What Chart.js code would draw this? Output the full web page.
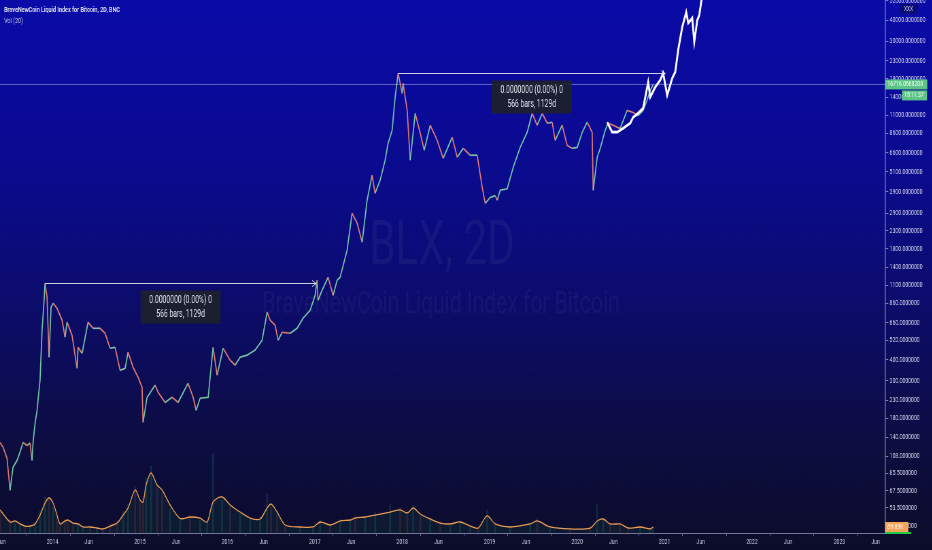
<!DOCTYPE html>
<html>
<head>
<meta charset="utf-8">
<script src="https://cdn.jsdelivr.net/npm/chart.js@4.4.0/dist/chart.umd.min.js"></script>
<style>
  html, body { margin: 0; padding: 0; overflow: hidden; background: #0c0c2a; }
  #wrap { width: 1371px; height: 550px; transform: scaleX(0.68); transform-origin: 0 0; }
</style>
</head>
<body>
<div id="wrap"><canvas id="chart" width="1371" height="550"></canvas></div>
<script>
"use strict";

// price (2D candles read as closes / wicks), x in decimal years
const priceDates = [
  2013.399, 2013.434, 2013.479, 2013.514, 2013.548, 2013.594, 2013.628, 2013.662, 2013.708, 2013.743,
  2013.765, 2013.777, 2013.800, 2013.823, 2013.834, 2013.857, 2013.880, 2013.903, 2013.914, 2013.937,
  2013.960, 2013.983, 2014.006, 2014.051, 2014.109, 2014.143, 2014.166, 2014.223, 2014.280, 2014.292,
  2014.338, 2014.406, 2014.463, 2014.543, 2014.601, 2014.658, 2014.715, 2014.772, 2014.830, 2014.864,
  2014.921, 2014.978, 2015.024, 2015.035, 2015.081, 2015.173, 2015.207, 2015.287, 2015.367, 2015.436,
  2015.550, 2015.608, 2015.642, 2015.688, 2015.780, 2015.836, 2015.882, 2015.951, 2016.031, 2016.088,
  2016.145, 2016.225, 2016.317, 2016.397, 2016.454, 2016.489, 2016.546, 2016.580, 2016.626, 2016.718,
  2016.797, 2016.866, 2016.946, 2017.003, 2017.026, 2017.037, 2017.083, 2017.152, 2017.209, 2017.255,
  2017.289, 2017.369, 2017.426, 2017.484, 2017.541, 2017.598, 2017.655, 2017.689, 2017.747, 2017.804,
  2017.838, 2017.884, 2017.918, 2017.953, 2017.999, 2018.010, 2018.056, 2018.091, 2018.148, 2018.206,
  2018.251, 2018.320, 2018.400, 2018.468, 2018.571, 2018.629, 2018.697, 2018.777, 2018.857, 2018.914,
  2018.949, 2019.006, 2019.063, 2019.086, 2019.120, 2019.200, 2019.269, 2019.349, 2019.429, 2019.486,
  2019.543, 2019.601, 2019.658, 2019.715, 2019.749, 2019.829, 2019.886, 2019.943, 2020.001, 2020.058,
  2020.115, 2020.172, 2020.184, 2020.230, 2020.264, 2020.321, 2020.355, 2020.412, 2020.492, 2020.572,
  2020.641, 2020.698, 2020.755, 2020.801, 2020.836, 2020.870
];
const priceValues = [
  130, 122, 105, 68, 93, 102, 114, 130, 125, 129,
  102, 130, 169, 201, 231, 303, 596, 895, 1127, 931,
  413, 814, 860, 803, 683, 542, 664, 556, 356, 473,
  436, 664, 612, 612, 572, 467, 473, 346, 356, 442,
  361, 315, 275, 171, 240, 283, 257, 224, 240, 224,
  290, 240, 201, 237, 240, 473, 324, 467, 397, 371,
  413, 425, 455, 520, 761, 683, 637, 520, 580, 572,
  612, 702, 781, 956, 1174, 895, 1025, 1223, 956, 1174,
  1223, 1763, 2910, 2543, 1966, 3476, 4880, 3820, 4560, 5980,
  7520, 8970, 14030, 19440, 14800, 16970, 11760, 5980, 11290, 8610,
  6840, 9610, 7830, 6140, 8160, 6230, 7030, 6400, 6400, 4150,
  3330, 3610, 3700, 3476, 3980, 4060, 5430, 7120, 8730, 11290,
  9610, 11290, 9870, 10010, 7830, 9610, 7310, 7030, 7120, 8730,
  10010, 8730, 3980, 6230, 7030, 8970, 9870, 9610, 9180, 11760,
  11420, 10960, 11760, 13500, 15400, 16716
];

// white projected path
const projDates = [
  2020.344, 2020.401, 2020.459, 2020.527, 2020.607, 2020.641, 2020.698, 2020.755, 2020.778, 2020.813,
  2020.836, 2020.893, 2020.950, 2020.984, 2021.030, 2021.088, 2021.122, 2021.156, 2021.202, 2021.248,
  2021.271, 2021.317, 2021.340, 2021.374, 2021.397, 2021.431
];
const projValues = [
  10010, 8750, 8750, 9230, 9880, 10710, 11310, 12100, 13870, 17240,
  14060, 16100, 17700, 19470, 14450, 18200, 19740, 26600, 36300, 44500,
  38400, 41100, 29700, 39900, 42800, 56000
];

// volume (K) and its 20-bar average
const volDates = [
  2013.400, 2013.514, 2013.571, 2013.628, 2013.685, 2013.743, 2013.800, 2013.857, 2013.914, 2013.960,
  2014.006, 2014.051, 2014.086, 2014.143, 2014.177, 2014.235, 2014.292, 2014.349, 2014.429, 2014.509,
  2014.578, 2014.658, 2014.738, 2014.807, 2014.864, 2014.944, 2015.001, 2015.035, 2015.070, 2015.127,
  2015.196, 2015.253, 2015.345, 2015.459, 2015.573, 2015.688, 2015.768, 2015.836, 2015.939, 2016.031,
  2016.145, 2016.260, 2016.374, 2016.454, 2016.500, 2016.568, 2016.660, 2016.831, 2016.980, 2017.061,
  2017.175, 2017.290, 2017.404, 2017.461, 2017.576, 2017.690, 2017.862, 2017.977, 2018.057, 2018.125,
  2018.206, 2018.320, 2018.435, 2018.548, 2018.663, 2018.778, 2018.869, 2018.971, 2019.063, 2019.234,
  2019.463, 2019.543, 2019.692, 2019.921, 2020.150, 2020.230, 2020.299, 2020.378, 2020.492, 2020.584,
  2020.721, 2020.835, 2020.869
];
const volValues = [
  240, 150, 120, 95, 70, 90, 130, 260, 420, 380,
  310, 180, 120, 160, 130, 100, 90, 60, 80, 50,
  55, 100, 140, 250, 330, 540, 350, 420, 640, 780,
  520, 450, 280, 170, 210, 150, 140, 920, 380, 300,
  220, 160, 190, 460, 300, 210, 80, 75, 60, 150,
  85, 160, 140, 200, 170, 240, 330, 300, 210, 320,
  200, 150, 130, 95, 140, 70, 60, 270, 90, 60,
  120, 170, 60, 40, 70, 330, 150, 110, 95, 50,
  80, 40, 70
];
const volMa = [
  268, 128, 140, 105, 81, 81, 105, 209, 349, 407,
  349, 209, 105, 140, 151, 116, 105, 70, 70, 58,
  47, 81, 116, 209, 291, 500, 384, 360, 558, 698,
  558, 500, 326, 170, 186, 174, 128, 360, 419, 326,
  244, 174, 163, 291, 337, 244, 93, 70, 70, 128,
  93, 140, 151, 174, 186, 209, 244, 268, 233, 291,
  221, 163, 116, 105, 128, 81, 58, 198, 105, 70,
  105, 140, 70, 47, 58, 140, 163, 105, 105, 58,
  70, 47, 70
];

// axes
const yTicks = [52000, 40000, 30000, 23000, 18000, 14000, 11000, 8600, 6600, 5100, 3900, 2900,
  2300, 1800, 1400, 1100, 860, 660, 520, 400, 300, 230, 180, 140, 108, 85.5, 67.5, 53.5, 42];
const xTickValues = [2013.414, 2014, 2014.414, 2015, 2015.414, 2016, 2016.414, 2017, 2017.414,
  2018, 2018.414, 2019, 2019.414, 2020, 2020.414, 2021, 2021.414, 2022, 2022.414, 2023, 2023.414];
const xTickLabels = ['Jun', '2014', 'Jun', '2015', 'Jun', '2016', 'Jun', '2017', 'Jun',
  '2018', 'Jun', '2019', 'Jun', '2020', 'Jun', '2021', 'Jun', '2022', 'Jun', '2023', 'Jun'];

// date-range measurements (566 bars, 1129d)
const rangeStart = [2013.914, 2017.953];
const rangeEnd = [2017.015, 2021.008];
const rangePrice = [1127, 19440];

const lastPrice = 16716.06682;
const lastVolume = 69.89;

const SX = 0.68; // whole page squeezed sideways like the narrow screenshot fonts
function px(x) { return x / SX; }

function trendUp(t) {
  for (let i = 1; i < priceDates.length; i++) {
    if (priceDates[i] >= t) return priceValues[i] >= priceValues[i - 1];
  }
  return true;
}

const bgPlugin = {
  id: "bg",
  beforeDraw(chart) {
    const ctx = chart.ctx;
    const g = ctx.createLinearGradient(0, 0, 0, chart.height);
    g.addColorStop(0, "#0a0aa8");
    g.addColorStop(0.3, "#0b0b90");
    g.addColorStop(0.55, "#0c0c6c");
    g.addColorStop(0.8, "#0d0d42");
    g.addColorStop(1, "#0c0c2a");
    ctx.save();
    ctx.fillStyle = g;
    ctx.fillRect(0, 0, chart.width, chart.height);
    ctx.restore();
  }
};

const backPlugin = {
  id: "back",
  beforeDatasetsDraw(chart) {
    const ctx = chart.ctx;
    const area = chart.chartArea;
    const ys = chart.scales.y;
    ctx.save();
    ctx.fillStyle = "rgba(130,135,180,0.09)";
    ctx.textAlign = "center";
    ctx.textBaseline = "middle";
    ctx.font = "62px Roboto";
    ctx.fillText("BLX, 2D", px(442), 248);
    ctx.font = "31px Roboto";
    ctx.fillText("BraveNewCoin Liquid Index for Bitcoin", px(441), 305);

    // last price line
    const yl = ys.getPixelForValue(lastPrice);
    ctx.strokeStyle = "rgba(170,180,225,0.55)";
    ctx.lineWidth = 1;
    ctx.beginPath();
    ctx.moveTo(area.left, yl);
    ctx.lineTo(area.right, yl);
    ctx.stroke();
    ctx.restore();
  }
};

function drawRange(ctx, xs, ys, i) {
  const x0 = xs.getPixelForValue(rangeStart[i]);
  const x1 = xs.getPixelForValue(rangeEnd[i]);
  const y = Math.round(ys.getPixelForValue(rangePrice[i])) + 0.5;
  ctx.strokeStyle = "rgba(225,228,245,0.9)";
  ctx.lineWidth = 1;
  ctx.beginPath();
  ctx.moveTo(x0, y);
  ctx.lineTo(x1, y);
  ctx.moveTo(x1 - px(4), y - 3);
  ctx.lineTo(x1, y);
  ctx.lineTo(x1 - px(4), y + 3);
  ctx.stroke();

  const cx = (x0 + x1) / 2;
  const bw = px(80);
  const top = y + 7;
  ctx.fillStyle = "rgba(30,33,44,0.93)";
  ctx.fillRect(cx - bw / 2, top, bw, 33);
  ctx.fillStyle = "#dde0ea";
  ctx.font = "10px Roboto";
  ctx.textAlign = "center";
  ctx.textBaseline = "middle";
  ctx.fillText("0.0000000 (0.00%) 0", cx, top + 10);
  ctx.fillText("566 bars, 1129d", cx, top + 24);
}

const frontPlugin = {
  id: "front",
  afterDraw(chart) {
    const ctx = chart.ctx;
    const area = chart.chartArea;
    const xs = chart.scales.x;
    const ys = chart.scales.y;
    const yv = chart.scales.yv;
    ctx.save();

    drawRange(ctx, xs, ys, 0);
    drawRange(ctx, xs, ys, 1);

    // legend
    ctx.textAlign = "left";
    ctx.textBaseline = "middle";
    ctx.fillStyle = "#e4e6f2";
    ctx.font = "600 8px Roboto";
    ctx.fillText("BraveNewCoin Liquid Index for Bitcoin, 2D, BNC", px(4), 10);
    ctx.fillStyle = "#c4c8e0";
    ctx.font = "8px Roboto";
    ctx.fillText("Vol (20)", px(4), 20.5);

    // axis labels
    const yl = ys.getPixelForValue(lastPrice);
    ctx.fillStyle = "#5cc486";
    ctx.fillRect(area.right, yl - 5, px(42), 10);
    ctx.fillRect(px(902), yl + 6, px(25), 10);
    ctx.fillStyle = "#f2fff6";
    ctx.font = "7.5px Roboto";
    ctx.fillText(lastPrice.toFixed(7), area.right + px(2), yl);
    ctx.fillText("15:11:37", px(904), yl + 11);

    ctx.fillStyle = "rgba(14,14,80,0.55)";
    ctx.fillRect(px(900), 4, px(17), 10);
    ctx.fillStyle = "#c8cce6";
    ctx.textAlign = "center";
    ctx.font = "7px Roboto";
    ctx.fillText("XXX", px(908.5), 9);

    const yvl = yv.getPixelForValue(lastVolume);
    ctx.fillStyle = "#f5a45d";
    ctx.fillRect(area.right, yvl - 5, px(23), 10);
    ctx.fillStyle = "#fff4e6";
    ctx.textAlign = "left";
    ctx.font = "7.5px Roboto";
    ctx.fillText(lastVolume.toFixed(2) + "K", area.right + px(2), yvl);
    ctx.strokeStyle = "#22cc44";
    ctx.lineWidth = 2;
    ctx.beginPath();
    ctx.moveTo(area.right, area.bottom);
    ctx.lineTo(area.right + px(26), area.bottom);
    ctx.stroke();

    ctx.restore();
  }
};

const up = "rgba(120,205,170,0.95)";
const down = "rgba(235,125,115,0.95)";

new Chart(document.getElementById("chart"), {
  type: "line",
  data: {
    datasets: [
      {
        label: "projection",
        data: projDates.map((d, i) => ({ x: d, y: projValues[i] })),
        borderColor: "#ffffff",
        borderWidth: 2.8,
        pointRadius: 0,
        yAxisID: "y"
      },
      {
        label: "BLX",
        data: priceDates.map((d, i) => ({ x: d, y: priceValues[i] })),
        borderWidth: 1.7,
        pointRadius: 0,
        borderColor: up,
        segment: {
          borderColor: (c) => (c.p1.parsed.y >= c.p0.parsed.y ? up : down)
        },
        yAxisID: "y"
      },
      {
        label: "Vol MA",
        data: volDates.map((d, i) => ({ x: d, y: volMa[i] })),
        borderColor: "#e89a52",
        borderWidth: 1.3,
        pointRadius: 0,
        tension: 0.3,
        fill: "origin",
        backgroundColor: "rgba(25,100,70,0.16)",
        yAxisID: "yv"
      },
      {
        type: "bar",
        label: "Vol",
        data: volDates.map((d, i) => ({ x: d, y: volValues[i] })),
        backgroundColor: volDates.map((d) => (trendUp(d) ? "rgba(38,150,110,0.22)" : "rgba(200,70,70,0.2)")),
        barThickness: 2,
        grouped: false,
        yAxisID: "yv"
      }
    ]
  },
  options: {
    responsive: false,
    animation: false,
    layout: { padding: 0, autoPadding: false },
    plugins: { legend: { display: false }, tooltip: { enabled: false } },
    scales: {
      x: {
        type: "linear",
        min: 2013.399,
        max: 2023.525,
        offset: false,
        bounds: "data",
        afterBuildTicks: (s) => { s.ticks = xTickValues.map((v) => ({ value: v })); },
        afterFit: (s) => { s.height = 17; s.paddingLeft = 0; s.paddingRight = 0; },
        ticks: {
          autoSkip: false,
          maxRotation: 0,
          padding: 2,
          color: "#c9cce0",
          font: { family: "Roboto", size: 7.5 },
          callback: (v, i) => xTickLabels[i]
        },
        grid: { drawOnChartArea: false, drawTicks: true, tickLength: 3, color: "rgba(160,165,200,0.6)" },
        border: { display: true, color: "rgba(150,155,195,0.75)", width: 1 }
      },
      y: {
        type: "logarithmic",
        position: "right",
        min: 38.1,
        max: 52540,
        afterBuildTicks: (s) => { s.ticks = yTicks.map((v) => ({ value: v })); },
        afterFit: (s) => { s.width = px(47); s.paddingTop = 0; s.paddingBottom = 0; },
        ticks: {
          autoSkip: false,
          padding: 2,
          color: "#d2d5ea",
          font: { family: "Roboto", size: 7.5 },
          callback: (v) => Number(v).toFixed(7)
        },
        grid: { drawOnChartArea: false, drawTicks: true, tickLength: px(3), color: "rgba(170,175,210,0.7)" },
        border: { display: true, color: "rgba(150,155,200,0.75)", width: 1.5 }
      },
      yv: {
        type: "linear",
        display: false,
        min: 0,
        max: 6200
      }
    }
  },
  plugins: [bgPlugin, backPlugin, frontPlugin]
});
</script>
</body>
</html>
